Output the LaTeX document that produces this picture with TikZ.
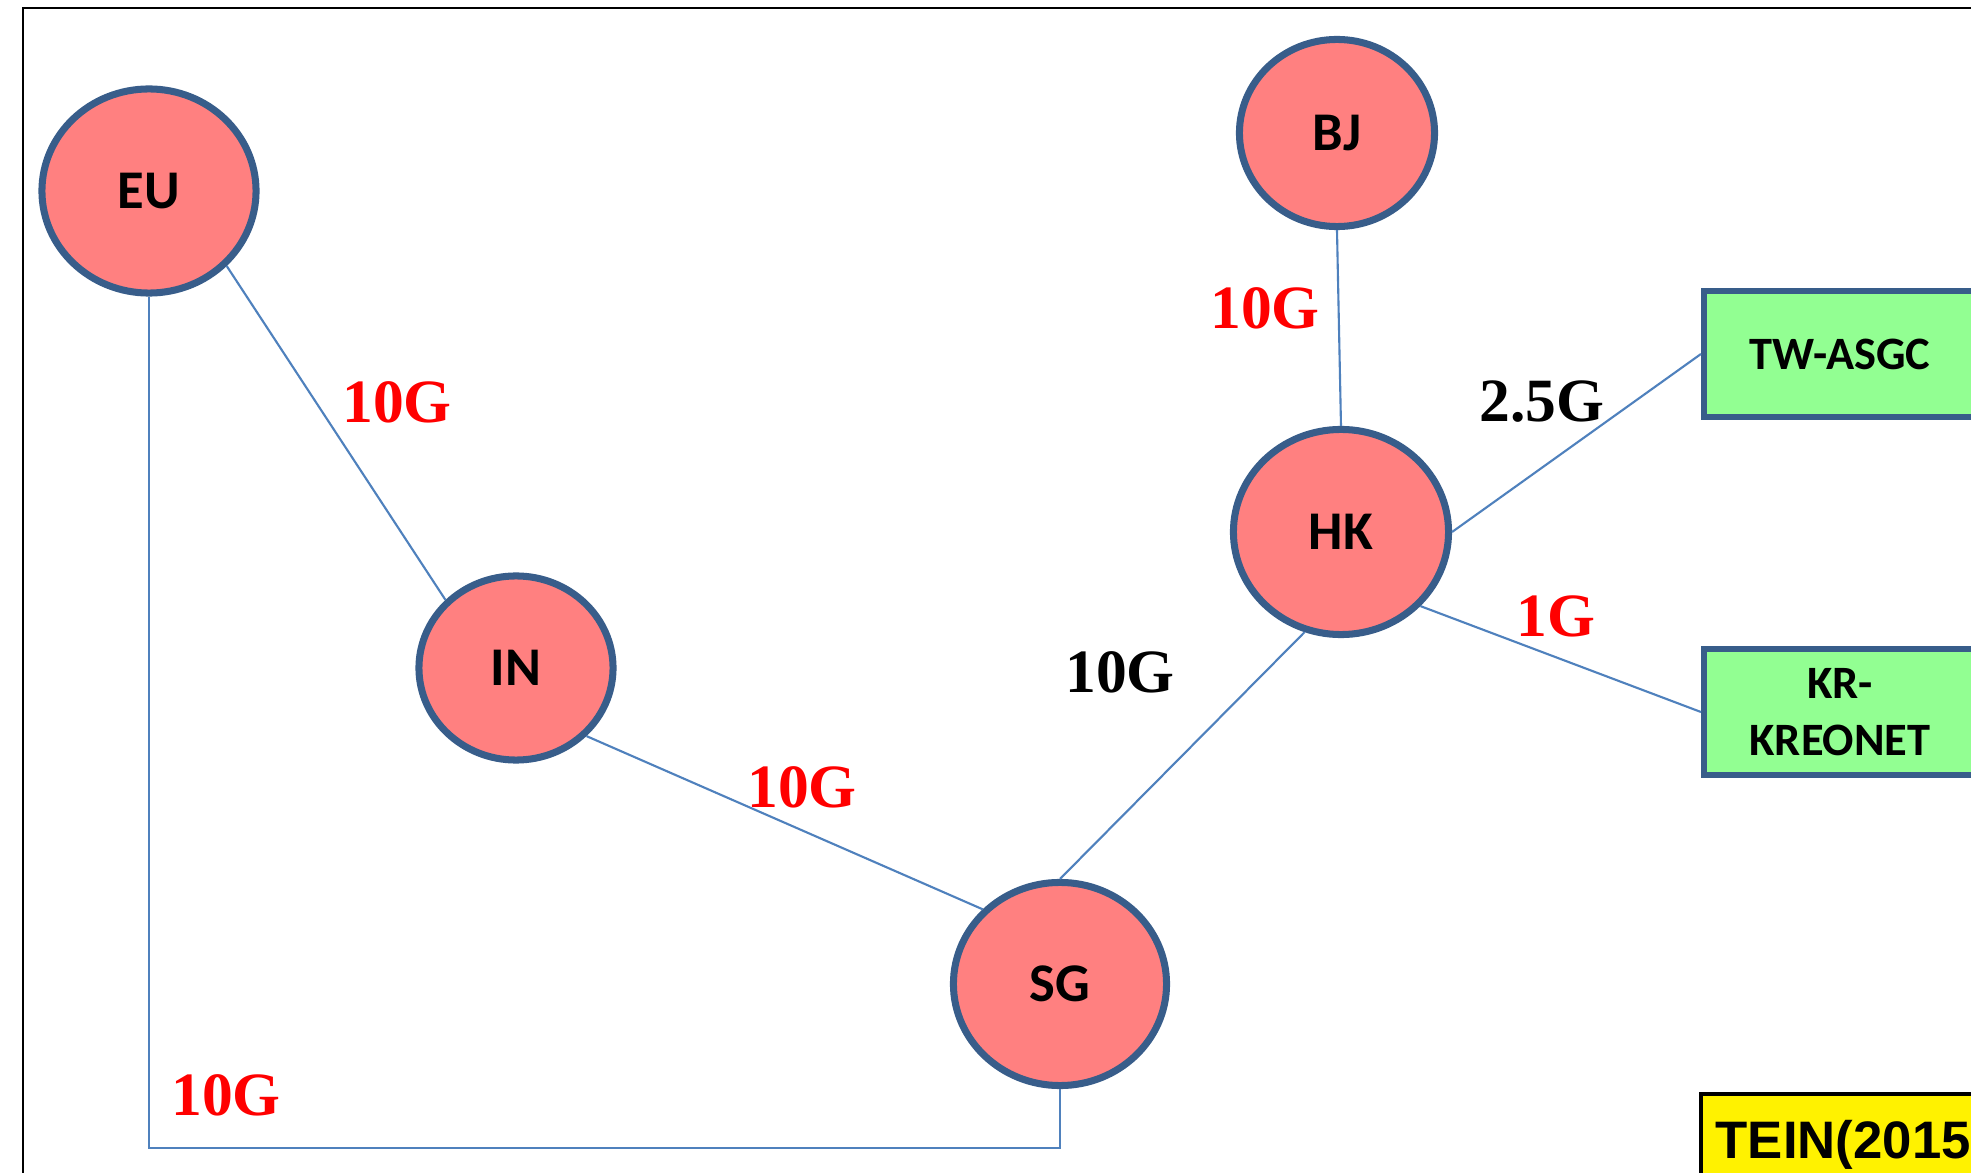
\documentclass[tikz,border=0pt]{standalone}
\usepackage{fontspec}
\setmainfont{Liberation Serif}
\newfontfamily\carlito{Carlito}
\newfontfamily\arialf{Liberation Sans}
\usetikzlibrary{shapes.geometric,calc}
\definecolor{nodefill}{HTML}{FF8080}
\definecolor{nodeline}{HTML}{385D8A}
\definecolor{linkblue}{HTML}{4F81BD}
\definecolor{boxgreen}{HTML}{92FF92}
\tikzset{
  site/.style={ellipse,draw=nodeline,line width=2pt,fill=nodefill,inner sep=0pt,
    font=\carlito\bfseries\fontsize{15.5}{18}\selectfont},
  netbox/.style={rectangle,draw=nodeline,line width=1.7pt,fill=boxgreen,inner sep=0pt,
    minimum width=2.72cm,minimum height=1.25cm,align=center,
    font=\carlito\bfseries\fontsize{13.2}{16}\selectfont},
  link/.style={draw=linkblue,line width=0.6pt},
  bw/.style={font=\bfseries\fontsize{17.5}{20}\selectfont},
  redlab/.style={bw,text=red},
  blacklab/.style={bw,text=black}
}
\begin{document}
\begin{tikzpicture}[x=0.01cm,y=-0.01cm]
\useasboundingbox (0,0) rectangle (1971,1173);
\clip (0,0) rectangle (1971,1173);
\fill[white] (0,0) rectangle (1971,1173);
% outer frame
\draw[black,line width=0.8pt] (23,8) rectangle (2050,1250);
% sites
\node[site,minimum width=2.14cm,minimum height=2.04cm] (EU) at (149,191) {EU};
\node[site,minimum width=1.95cm,minimum height=1.87cm] (BJ) at (1337,133) {BJ};
\node[site,minimum width=2.15cm,minimum height=2.05cm] (HK) at (1341,532) {HK};
\node[site,minimum width=1.94cm,minimum height=1.84cm] (IN) at (516,668) {IN};
\node[site,minimum width=2.13cm,minimum height=2.03cm] (SG) at (1060,984) {SG};
\node[netbox] (TW) at (1840,354) {TW-ASGC};
\node[netbox] (KR) at (1840,712) {KR-\\KREONET};
\node[draw=black,line width=1pt,fill=yellow,minimum width=3.2cm,minimum height=1.3cm,anchor=north west] (TEINbox) at (1699,1092) {};
\node[anchor=base west,inner sep=0pt,font=\arialf\bfseries\fontsize{15}{17}\selectfont] (TEIN) at (1715,1158) {TEIN(2015};
% links
\coordinate (bot) at (0,1148);
\draw[link] (EU.-44) -- (IN.136);
\draw[link] (IN.-44) -- (SG.136);
\draw[link] (SG.north) -- (HK.-110);
\draw[link] (BJ.south) -- (HK.north);
\draw[link] (HK.east) -- (TW.west);
\draw[link] (HK.-43) -- (KR.west);
\draw[link] (EU.south) -- (EU.south |- bot) -| (SG.south);
% labels
\node[redlab] (l1) at (397,402) {10G};
\node[redlab] (l2) at (1265,308) {10G};
\node[blacklab] (l3) at (1542,402) {2.5G};
\node[redlab] (l4) at (1556,616) {1G};
\node[blacklab] (l5) at (1120,672) {10G};
\node[redlab] (l6) at (802,787) {10G};
\node[redlab] (l7) at (226,1095) {10G};
\end{tikzpicture}
\end{document}
